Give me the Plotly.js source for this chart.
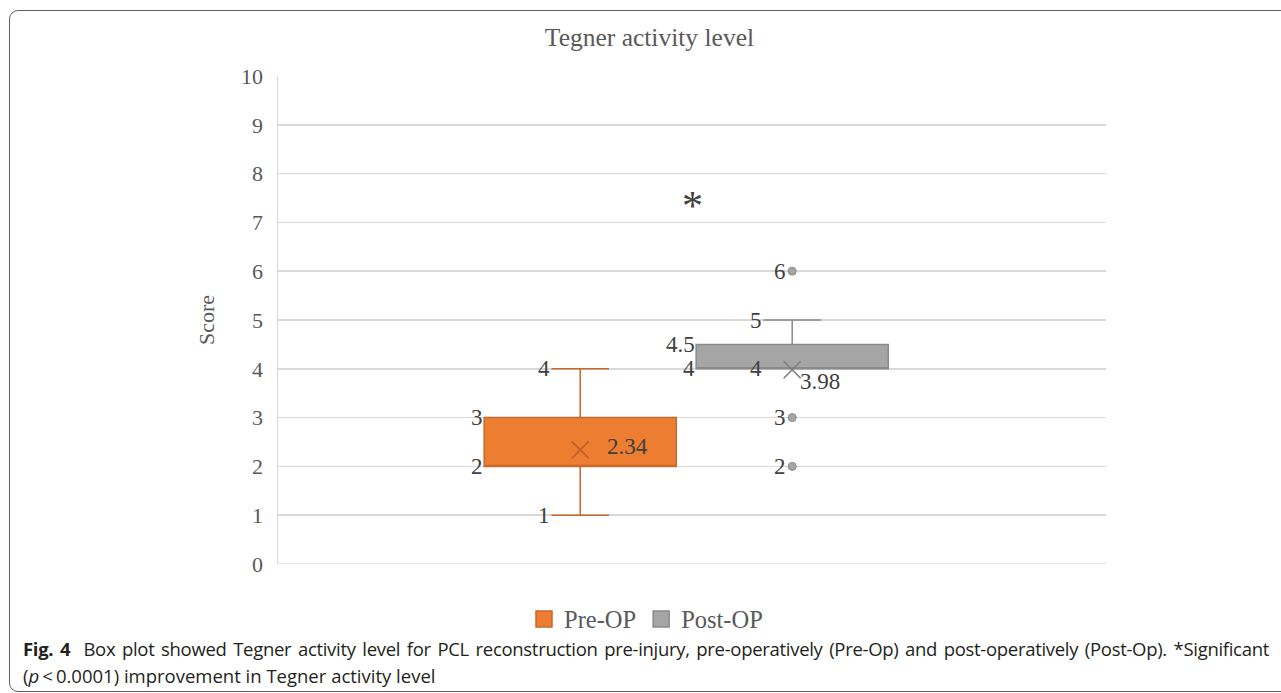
<!DOCTYPE html>
<html>
<head>
<meta charset="utf-8">
<script src="https://cdn.plot.ly/plotly-3.0.1.min.js"></script>
<style>
  html, body { margin: 0; padding: 0; background: #fff; width: 1281px; height: 693px; overflow: hidden; }
  #frame { position: absolute; left: 9px; top: 10px; width: 1300px; height: 682px; border: 1.5px solid #5f5f5f; border-radius: 9px; box-sizing: border-box; }
  #chart { position: absolute; left: 0; top: 0; width: 1281px; height: 640px; }
  .cap { position: absolute; left: 23px; width: 1246px; font-family: "Open Sans", "Noto Sans", sans-serif; font-size: 18.5px; letter-spacing: -0.3px; line-height: 24px; color: #231f20; white-space: nowrap; }
  #cap1 { top: 637px; text-align: justify; text-align-last: justify; white-space: normal; }
  #cap2 { top: 664px; letter-spacing: 0px; }
</style>
</head>
<body>
<div id="frame"></div>
<div id="chart"></div>
<div class="cap" id="cap1"><b>Fig. 4</b>&nbsp; Box plot showed Tegner activity level for PCL reconstruction pre-injury, pre-operatively (Pre-Op) and post-operatively (Post-Op). *Significant</div>
<div class="cap" id="cap2">(<i>p</i>&thinsp;&lt;&thinsp;0.0001) improvement in Tegner activity level</div>
<script>
// ---- data ----
const categories = ['Pre-OP', 'Post-OP'];
const lowerWhisker = [1, 4];
const q1Values = [2, 4];
const medianValues = [2, 4];
const q3Values = [3, 4.5];
const upperWhisker = [4, 5];
const meanValues = [2.34, 3.98];
const postOutliers = [6, 3, 2];
const yTickValues = [0, 1, 2, 3, 4, 5, 6, 7, 8, 9, 10];
const significanceY = 7.5;

// ---- styles ----
const boxPos = [3.65, 6.21];
const boxWidth = 2.32;
const fills = ['#ED7D31', '#A5A5A5'];
const borders = ['#C9682A', '#8A8A8A'];
const meanColors = ['#C0622A', '#7F7F7F'];
const serif = '"Liberation Serif", "Times New Roman", serif';
const labelColor = '#404040';

const traces = [];
categories.forEach((c, i) => {
  traces.push({
    type: 'box', name: c, x: [boxPos[i]],
    q1: [q1Values[i]], median: [medianValues[i]], q3: [q3Values[i]],
    lowerfence: [lowerWhisker[i]], upperfence: [upperWhisker[i]],
    width: boxWidth, whiskerwidth: 0.3, boxpoints: false,
    fillcolor: fills[i], line: { color: borders[i], width: 1.5 },
    showlegend: false, hoverinfo: 'skip'
  });
  traces.push({
    type: 'scatter', mode: 'markers', x: [boxPos[i]], y: [meanValues[i]],
    marker: { symbol: 'x-thin', size: 17, line: { color: meanColors[i], width: 1.6 } },
    showlegend: false, hoverinfo: 'skip'
  });
});
traces.push({
  type: 'scatter', mode: 'markers',
  x: postOutliers.map(() => boxPos[1]), y: postOutliers,
  marker: { symbol: 'circle', size: 8, color: '#A5A5A5', line: { color: '#8C8C8C', width: 1 } },
  showlegend: false, hoverinfo: 'skip'
});
// legend entries
categories.forEach((c, i) => {
  traces.push({
    type: 'scatter', mode: 'markers', name: c, x: [null], y: [null],
    marker: { symbol: 'square', size: 19, color: fills[i], line: { color: borders[i], width: 1.5 } },
    showlegend: true, hoverinfo: 'skip'
  });
});

const ann = [];
function lab(x, y, text, xanchor, xshift, yshift) {
  ann.push({ x: x, y: y, xref: 'x', yref: 'y', text: String(text), showarrow: false,
    xanchor: xanchor, yanchor: 'middle', xshift: xshift || 0, yshift: yshift || 0,
    font: { family: serif, size: 23, color: labelColor } });
}
const capHalf = boxWidth * 0.3 / 2;
categories.forEach((c, i) => {
  const left = boxPos[i] - boxWidth / 2;
  lab(left, q3Values[i], q3Values[i], 'right', 1);
  lab(left, q1Values[i], q1Values[i], 'right', 1);
  lab(boxPos[i] - capHalf, upperWhisker[i], upperWhisker[i], 'right', 1);
});
// Pre-OP specific labels
lab(boxPos[0] - capHalf, lowerWhisker[0], lowerWhisker[0], 'right', 1);
lab(boxPos[0], meanValues[0], meanValues[0].toFixed(2), 'left', 25, 3);
// Post-OP specific labels
lab(boxPos[1] - capHalf, medianValues[1], medianValues[1], 'right', 1);
lab(boxPos[1], meanValues[1], meanValues[1].toFixed(2), 'left', 6, -12);
postOutliers.forEach(v => lab(boxPos[1], v, v, 'right', -4));
ann.push({ x: 5.01, y: significanceY, xref: 'x', yref: 'y', text: '*', showarrow: false,
  xanchor: 'center', yanchor: 'middle', yshift: -8, font: { family: serif, size: 42, color: '#404040' } });

const layout = {
  width: 1281, height: 640,
  margin: { l: 278, r: 175, t: 76, b: 76 },
  paper_bgcolor: 'rgba(0,0,0,0)', plot_bgcolor: 'rgba(0,0,0,0)',
  title: { text: 'Tegner activity level', x: 0.507, xref: 'container', xanchor: 'center',
    y: 1 - 37 / 640, yref: 'container', yanchor: 'middle',
    font: { family: serif, size: 25.5, color: '#595959' } },
  xaxis: { range: [0, 10], showgrid: false, zeroline: false, showticklabels: false,
    showline: false, fixedrange: true },
  yaxis: { range: [0, 10], tickvals: yTickValues, ticktext: yTickValues.map(String),
    showgrid: true, gridcolor: '#D9D9D9', gridwidth: 1.5, zeroline: false,
    showline: true, linecolor: '#D9D9D9', linewidth: 1.5,
    ticks: 'outside', ticklen: 9, tickcolor: 'rgba(0,0,0,0)',
    tickfont: { family: serif, size: 22, color: '#595959' },
    title: { text: 'Score', standoff: 20, font: { family: serif, size: 22, color: '#595959' } } },
  shapes: [
    { type: 'line', xref: 'paper', yref: 'y', x0: 0, x1: 1, y0: 0, y1: 0, line: { color: '#D9D9D9', width: 1.5 } }
  ],
  showlegend: true,
  legend: { orientation: 'h', xref: 'container', x: 524 / 1281, xanchor: 'left',
    yref: 'container', y: 1 - 619 / 640, yanchor: 'middle',
    font: { family: serif, size: 24.5, color: '#595959' }, itemclick: false, traceorder: 'normal' },
  annotations: ann
};

Plotly.newPlot('chart', traces, layout, { displayModeBar: false, staticPlot: true });
</script>
</body>
</html>
